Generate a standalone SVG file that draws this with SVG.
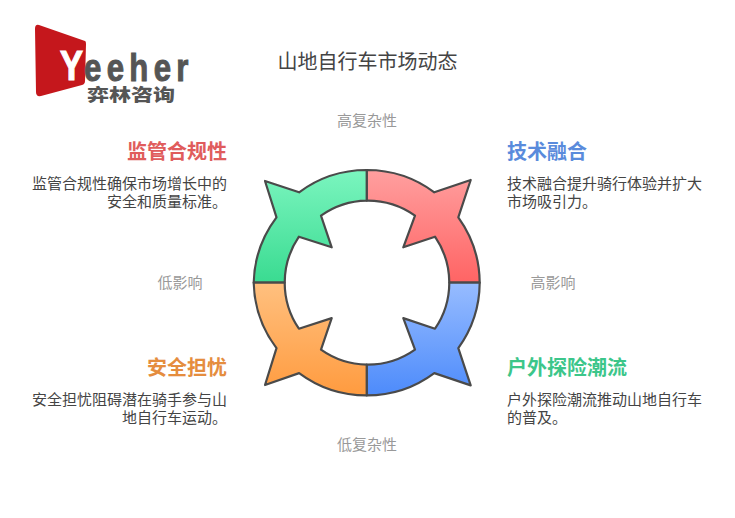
<svg xmlns="http://www.w3.org/2000/svg" width="735" height="518" viewBox="0 0 735 518">
<style>
text{font-family:"Noto Sans CJK SC","Liberation Sans",sans-serif}
.seg{stroke:#4a4a4a;stroke-width:2.2;stroke-linejoin:round}
.h{font-size:20px;font-weight:700}
.d{font-size:15px;fill:#444}
.a{font-size:15px;fill:#999}
.e{text-anchor:end}
.m{text-anchor:middle}
.l{font-family:"Liberation Sans",sans-serif;font-weight:700}
</style>
<defs>
<linearGradient id="gr" x1="0" y1="0" x2="0" y2="1"><stop offset="0" stop-color="#ff9f9f"/><stop offset="1" stop-color="#ff6464"/></linearGradient>
<linearGradient id="gb" x1="0" y1="0" x2="0" y2="1"><stop offset="0" stop-color="#97bcff"/><stop offset="1" stop-color="#4d8bfb"/></linearGradient>
<linearGradient id="gg" x1="0" y1="0" x2="0" y2="1"><stop offset="0" stop-color="#7bf5bf"/><stop offset="1" stop-color="#3adb91"/></linearGradient>
<linearGradient id="go" x1="0" y1="0" x2="0" y2="1"><stop offset="0" stop-color="#ffc07f"/><stop offset="1" stop-color="#ff9b3f"/></linearGradient>
</defs>
<rect width="735" height="518" fill="#fff"/>
<g id="logo">
<path d="M39 25 L85 41 Q86 41 86 44 L85 81 Q85 84 82 85 L41 96 Q36 97 36 92 L35 29 Q35 24 39 25Z" fill="#c5171c"/>
<text class="l" font-size="42" fill="#fff" stroke="#fff" stroke-width="1.2" transform="translate(60 80) scale(.82 1)">Y</text>
<text class="l" font-size="38" fill="#555" stroke="#555" stroke-width="1" letter-spacing="6.5" transform="translate(84 81) scale(.82 1)">eeher</text>
<text font-size="22" font-weight="900" fill="#555" transform="translate(87 101) scale(1 .8)">弈林咨询</text>
</g>
<text id="title" x="367.5" y="69" class="m" font-size="20" fill="#444">山地自行车市场动态</text>
<g id="axes">
<text x="367" y="126" class="m a">高复杂性</text>
<text x="367" y="450" class="m a">低复杂性</text>
<text x="180" y="288" class="m a">低影响</text>
<text x="553" y="288" class="m a">高影响</text>
</g>
<g id="connectors"></g>
<g id="seg-red"><path class="seg" fill="url(#gr)" d="M366.7 170A113 113 0 0 1 434.3 192.3L470.7 180L458.3 217.3A113 113 0 0 1 479.7 282.7H449.3A82 82 0 0 0 435 236.7L403.3 247.3L415 215.7A82 82 0 0 0 366.7 200.7Z"/></g>
<g id="seg-green"><path class="seg" fill="url(#gg)" d="M366.7 170A113 113 0 0 0 299.1 192.3L265 181L276.5 217.3A113 113 0 0 0 253.7 282.7H284.7A82 82 0 0 1 298.9 236.7L331.7 247.3L321 215.7A82 82 0 0 1 366.7 200.7Z"/></g>
<g id="seg-blue"><path class="seg" fill="url(#gb)" d="M366.7 395.4A113 113 0 0 0 434.3 373.1L470.7 385.4L458.3 348.1A113 113 0 0 0 479.7 282.7H449.3A82 82 0 0 1 435 328.7L403.3 318.1L415 349.7A82 82 0 0 1 366.7 364.7Z"/></g>
<g id="seg-orange"><path class="seg" fill="url(#go)" d="M366.7 395.4A113 113 0 0 1 299.1 373.1L265 385L276.5 348.1A113 113 0 0 1 253.7 282.7H284.7A82 82 0 0 0 298.9 328.7L331.7 318.1L321 349.7A82 82 0 0 0 366.7 364.7Z"/></g>
<g id="node-tech">
<text x="507" y="159" class="h" fill="#5a8bdc">技术融合</text>
<text x="507" y="189" class="d">技术融合提升骑行体验并扩大</text>
<text x="507" y="207" class="d">市场吸引力。</text>
</g>
<g id="node-reg">
<text x="227" y="159" class="h e" fill="#e05c5c">监管合规性</text>
<text x="227" y="189" class="d e">监管合规性确保市场增长中的</text>
<text x="227" y="207" class="d e">安全和质量标准。</text>
</g>
<g id="node-safety">
<text x="227" y="375" class="h e" fill="#e58d3e">安全担忧</text>
<text x="227" y="405" class="d e">安全担忧阻碍潜在骑手参与山</text>
<text x="227" y="423" class="d e">地自行车运动。</text>
</g>
<g id="node-outdoor">
<text x="507" y="375" class="h" fill="#3cc68a">户外探险潮流</text>
<text x="507" y="405" class="d">户外探险潮流推动山地自行车</text>
<text x="507" y="423" class="d">的普及。</text>
</g>
</svg>
